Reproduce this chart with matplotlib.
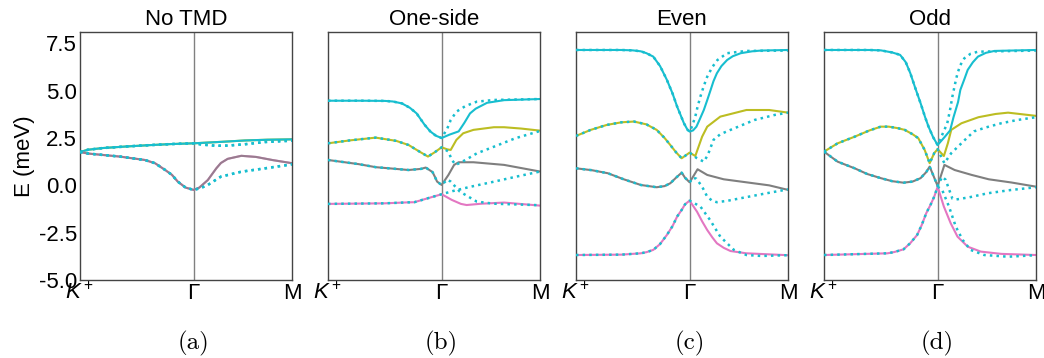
import matplotlib
matplotlib.use('Agg')

import matplotlib.pyplot as plt
from matplotlib.transforms import blended_transform_factory

# k-path: K+ at 0, Gamma at 1, M at 1.866
k_ticks = [0, 1, 1.866]
k_labels = [r'$K^+$', 'Γ', 'M']
titles = ['No TMD', 'One-side', 'Even', 'Odd']
captions = ['(a)', '(b)', '(c)', '(d)']
y_ticks = [-5.0, -2.5, 0.0, 2.5, 5.0, 7.5]

# ---- (a) No TMD ----
a_k_up = [0, 0.07, 0.2, 0.4, 0.6, 0.8, 1.0, 1.25, 1.45, 1.65, 1.866]
a_e_up = [1.76, 1.88, 1.97, 2.05, 2.12, 2.18, 2.22, 2.30, 2.37, 2.41, 2.43]
a_k_up_dot = [1.08, 1.2, 1.3, 1.45, 1.63, 1.866]
a_e_up_dot = [2.15, 2.09, 2.10, 2.17, 2.29, 2.36]

a_k_lo = [0, 0.07, 0.35, 0.57, 0.66, 0.75, 0.81, 0.86, 0.93, 1.0,
          1.05, 1.125, 1.2, 1.24, 1.3, 1.42, 1.55, 1.7, 1.866]
a_e_lo = [1.76, 1.68, 1.52, 1.34, 1.17, 0.81, 0.55, 0.2, -0.12, -0.24,
          -0.12, 0.28, 0.9, 1.18, 1.4, 1.56, 1.5, 1.33, 1.17]
a_k_lo_dot = [1.06, 1.125, 1.24, 1.42, 1.63, 1.866]
a_e_lo_dot = [-0.15, 0.02, 0.46, 0.72, 0.9, 1.11]

# ---- (b) One-side ----
b_k_cyan = [0, 0.3, 0.5, 0.57, 0.65, 0.72, 0.78, 0.85, 0.9, 0.95, 1.0,
            1.07, 1.15, 1.2, 1.25, 1.3, 1.4, 1.55, 1.866]
b_e_cyan = [4.47, 4.47, 4.46, 4.43, 4.33, 4.1, 3.8, 3.2, 2.85, 2.62, 2.5,
            2.68, 2.85, 3.3, 3.8, 4.05, 4.36, 4.50, 4.56]
b_k_cyan_dot = [1.05, 1.08, 1.13, 1.21, 1.31, 1.46, 1.866]
b_e_cyan_dot = [3.0, 3.45, 3.89, 4.19, 4.42, 4.51, 4.56]

b_k_olive = [0, 0.2, 0.42, 0.6, 0.71, 0.8, 0.88, 0.94, 1.0, 1.05, 1.08,
             1.13, 1.19, 1.28, 1.46, 1.55, 1.7, 1.866]
b_e_olive = [2.22, 2.38, 2.52, 2.35, 2.13, 1.8, 1.52, 1.75, 2.01, 1.9, 1.87,
             2.40, 2.75, 2.93, 3.07, 3.07, 3.0, 2.89]
b_k_olive_dot = [1.06, 1.09, 1.125, 1.21, 1.31, 1.46, 1.65, 1.866]
b_e_olive_dot = [1.78, 1.34, 1.08, 1.34, 1.69, 2.04, 2.49, 2.87]

b_k_gray = [0, 0.27, 0.42, 0.71, 0.82, 0.86, 0.92, 0.94, 0.96, 1.0,
            1.06, 1.11, 1.15, 1.28, 1.55, 1.866]
b_e_gray = [1.34, 1.12, 0.96, 0.81, 0.87, 0.94, 0.7, 0.46, 0.2, 0.02,
            0.55, 1.08, 1.22, 1.22, 1.08, 0.73]
b_k_gray_dot = [1.05, 1.08, 1.16, 1.31, 1.46, 1.866]
b_e_gray_dot = [0.3, 0.2, -0.33, -0.86, -0.97, -1.05]

b_k_pink = [0, 0.5, 0.7, 0.76, 0.88, 1.0, 1.09, 1.17, 1.22, 1.35, 1.55, 1.866]
b_e_pink = [-0.98, -0.95, -0.9, -0.89, -0.68, -0.47, -0.77, -0.98, -1.04,
            -0.97, -0.91, -1.07]
b_k_pink_dot = [1.1, 1.25, 1.45, 1.65, 1.866]
b_e_pink_dot = [-0.3, -0.08, 0.18, 0.45, 0.73]

# ---- (c) Even ----
c_k_cyan = [0, 0.4, 0.5, 0.57, 0.62, 0.68, 0.74, 0.8, 0.85, 0.89, 0.95, 0.98,
            1.0, 1.03, 1.06, 1.09, 1.125, 1.155, 1.185, 1.21, 1.24, 1.28,
            1.33, 1.38, 1.45, 1.55, 1.63, 1.866]
c_e_cyan = [7.15, 7.15, 7.13, 7.08, 6.98, 6.80, 6.3, 5.57, 4.85, 4.16, 3.28, 2.95,
            2.84, 2.9, 3.10, 3.5, 3.98, 4.5, 5.04, 5.5, 5.92, 6.3,
            6.62, 6.82, 6.98, 7.08, 7.12, 7.15]
c_k_cyan_dot = [1.02, 1.05, 1.07, 1.095, 1.125, 1.155, 1.2, 1.245, 1.33, 1.5,
                1.866]
c_e_cyan_dot = [3.1, 3.63, 4.15, 4.69, 5.25, 5.74, 6.25, 6.62, 6.98, 7.1, 7.12]

c_k_olive = [0, 0.13, 0.27, 0.4, 0.51, 0.62, 0.71, 0.78, 0.83, 0.88, 0.93,
             0.97, 1.0, 1.05, 1.11, 1.155, 1.27, 1.5, 1.7, 1.866]
c_e_olive = [2.61, 2.93, 3.19, 3.33, 3.37, 3.22, 2.93, 2.5, 2.13, 1.75, 1.43,
             1.6, 1.73, 1.55, 2.57, 3.10, 3.63, 3.98, 3.98, 3.84]
c_k_olive_dot = [1.06, 1.125, 1.16, 1.21, 1.27, 1.36, 1.57, 1.75, 1.866]
c_e_olive_dot = [1.45, 1.25, 1.6, 2.4, 2.7, 2.93, 3.45, 3.72, 3.84]

c_k_gray = [0, 0.14, 0.28, 0.42, 0.57, 0.71, 0.78, 0.83, 0.88, 0.93, 0.96,
            1.0, 1.035, 1.07, 1.155, 1.3, 1.5, 1.7, 1.866]
c_e_gray = [0.90, 0.8, 0.64, 0.32, 0.02, -0.10, -0.04, 0.11, 0.4, 0.67, 0.4,
            0.16, 0.5, 0.85, 0.55, 0.32, 0.16, 0.0, -0.24]
c_k_gray_dot = [1.03, 1.06, 1.11, 1.155, 1.2, 1.24, 1.33, 1.45, 1.65, 1.866]
c_e_gray_dot = [0.4, 0.35, -0.07, -0.6, -0.82, -0.89, -0.82, -0.68, -0.45, -0.21]

c_k_pink = [0, 0.4, 0.57, 0.62, 0.68, 0.74, 0.8, 0.85, 0.89, 0.93, 0.96, 1.0,
            1.065, 1.11, 1.155, 1.2, 1.24, 1.3, 1.36, 1.5, 1.866]
c_e_pink = [-3.68, -3.66, -3.59, -3.53, -3.41, -3.1, -2.62, -2.15, -1.65, -1.3,
            -1.0, -0.81, -1.39, -1.9, -2.36, -2.75, -3.06, -3.3, -3.47, -3.59,
            -3.69]
c_k_pink_dot = [1.095, 1.18, 1.27, 1.39, 1.5, 1.63, 1.866]
c_e_pink_dot = [-1.12, -1.83, -2.71, -3.41, -3.68, -3.73, -3.69]

# ---- (d) Odd ----
d_k_cyan = [0, 0.4, 0.5, 0.6, 0.67, 0.72, 0.76, 0.8, 0.85, 0.89, 0.92, 0.96,
            1.0, 1.06, 1.11, 1.14, 1.18, 1.2, 1.235, 1.265, 1.31, 1.355,
            1.425, 1.5, 1.866]
d_e_cyan = [7.15, 7.15, 7.13, 7.02, 6.89, 6.5, 5.92, 5.2, 4.34, 3.6, 3.10, 2.55,
            2.13, 2.54, 2.9, 3.6, 4.4, 5.04, 5.6, 6.1, 6.5, 6.8,
            7.0, 7.1, 7.15]
d_k_cyan_dot = [1.02, 1.05, 1.085, 1.11, 1.13, 1.155, 1.175, 1.2, 1.235, 1.29,
                1.355, 1.866]
d_e_cyan_dot = [2.40, 2.8, 3.28, 4.0, 4.69, 5.4, 5.92, 6.35, 6.71, 6.95,
                7.06, 7.12]

d_k_olive = [0, 0.12, 0.27, 0.4, 0.5, 0.57, 0.65, 0.71, 0.78, 0.83, 0.886,
             0.93, 0.97, 1.0, 1.055, 1.09, 1.12, 1.21, 1.36, 1.51, 1.62, 1.866]
d_e_olive = [1.78, 2.22, 2.57, 2.9, 3.10, 3.1, 3.02, 2.93, 2.7, 2.49, 1.87,
             1.17, 1.70, 1.91, 1.55, 2.22, 2.93, 3.28, 3.6, 3.77, 3.84, 3.67]
d_k_olive_dot = [1.04, 1.06, 1.12, 1.24, 1.32, 1.42, 1.56, 1.7, 1.866]
d_e_olive_dot = [1.4, 1.17, 1.70, 2.40, 2.85, 3.05, 3.28, 3.45, 3.6]

d_k_gray = [0, 0.12, 0.27, 0.38, 0.5, 0.6, 0.7, 0.78, 0.85, 0.9, 0.93, 1.0,
            1.06, 1.15, 1.3, 1.45, 1.65, 1.866]
d_e_gray = [1.78, 1.25, 0.90, 0.6, 0.38, 0.22, 0.14, 0.2, 0.38, 0.7, 0.99,
            -0.03, 1.08, 0.81, 0.55, 0.32, 0.15, -0.07]
d_k_gray_dot = [1.04, 1.07, 1.1, 1.13, 1.16, 1.28, 1.44, 1.64, 1.866]
d_e_gray_dot = [0.45, 0.3, -0.2, -0.7, -0.75, -0.63, -0.42, -0.25, -0.10]

d_k_pink = [0, 0.56, 0.62, 0.7, 0.76, 0.82, 0.86, 0.9, 0.94, 0.97, 1.0,
            1.055, 1.115, 1.175, 1.265, 1.38, 1.56, 1.866]
d_e_pink = [-3.68, -3.59, -3.52, -3.38, -3.05, -2.62, -2.1, -1.47, -1.0, -0.6,
            -0.07, -1.12, -2.0, -2.71, -3.24, -3.50, -3.62, -3.68]
d_k_pink_dot = [1.04, 1.1, 1.16, 1.22, 1.29, 1.41, 1.62, 1.866]
d_e_pink_dot = [-0.24, -1.12, -2.18, -2.88, -3.41, -3.68, -3.77, -3.69]

CYAN, OLIVE, GRAY, PINK = '#17becf', '#bcbd22', '#7f7f7f', '#e377c2'

plt.rcParams['font.family'] = ['Liberation Sans', 'DejaVu Sans']
plt.rcParams['mathtext.fontset'] = 'custom'
plt.rcParams['mathtext.it'] = 'Liberation Sans:italic'
plt.rcParams['mathtext.rm'] = 'Liberation Sans'
plt.rcParams['axes.unicode_minus'] = False

fig = plt.figure(figsize=(10.44, 3.58), dpi=100)
lefts = [80, 328, 576, 824]
axes = [fig.add_axes([l / 1044, 78 / 358, 212 / 1044, 248 / 358]) for l in lefts]


def dotted(k, e, kd, ed):
    # dotted band: same as solid up to Gamma, then its own branch
    kk = [x for x in k if x <= 1.0] + kd
    ee = [y for x, y in zip(k, e) if x <= 1.0] + ed
    return kk, ee


panels = [
    [(a_k_up, a_e_up, a_k_up_dot, a_e_up_dot, OLIVE),
     (a_k_up, a_e_up, a_k_up_dot, a_e_up_dot, CYAN),
     (a_k_lo, a_e_lo, a_k_lo_dot, a_e_lo_dot, PINK),
     (a_k_lo, a_e_lo, a_k_lo_dot, a_e_lo_dot, GRAY)],
    [(b_k_pink, b_e_pink, b_k_pink_dot, b_e_pink_dot, PINK),
     (b_k_gray, b_e_gray, b_k_gray_dot, b_e_gray_dot, GRAY),
     (b_k_olive, b_e_olive, b_k_olive_dot, b_e_olive_dot, OLIVE),
     (b_k_cyan, b_e_cyan, b_k_cyan_dot, b_e_cyan_dot, CYAN)],
    [(c_k_pink, c_e_pink, c_k_pink_dot, c_e_pink_dot, PINK),
     (c_k_gray, c_e_gray, c_k_gray_dot, c_e_gray_dot, GRAY),
     (c_k_olive, c_e_olive, c_k_olive_dot, c_e_olive_dot, OLIVE),
     (c_k_cyan, c_e_cyan, c_k_cyan_dot, c_e_cyan_dot, CYAN)],
    [(d_k_pink, d_e_pink, d_k_pink_dot, d_e_pink_dot, PINK),
     (d_k_gray, d_e_gray, d_k_gray_dot, d_e_gray_dot, GRAY),
     (d_k_olive, d_e_olive, d_k_olive_dot, d_e_olive_dot, OLIVE),
     (d_k_cyan, d_e_cyan, d_k_cyan_dot, d_e_cyan_dot, CYAN)],
]

for i, ax in enumerate(axes):
    ax.axvline(1.0, color='#808080', lw=1.0, zorder=1)
    for k, e, kd, ed, col in panels[i]:
        alpha = 0.75 if (i == 0 and col == GRAY) else 1.0
        ax.plot(k, e, color=col, lw=1.5, alpha=alpha, zorder=2)
    for k, e, kd, ed, col in panels[i]:
        kk, ee = dotted(k, e, kd, ed)
        ax.plot(kk, ee, color=CYAN, lw=1.8, ls=':', zorder=3)

    ax.set_xlim(0, 1.866)
    ax.set_ylim(-5.0, 8.1)
    ax.set_xticks(k_ticks)
    ax.set_xticklabels(k_labels, fontsize=16)
    ax.set_yticks(y_ticks)
    ax.tick_params(length=0, pad=2, labelsize=16)
    if i > 0:
        ax.set_yticklabels([])
    ax.set_title(titles[i], fontsize=16, pad=5)
    for s in ax.spines.values():
        s.set_color('#444444')
        s.set_linewidth(1.0)
    tr = blended_transform_factory(ax.transData, ax.transAxes)
    ax.text(1.0, -0.255, captions[i], transform=tr, ha='center', va='center',
            fontsize=18, family='cmr10')

axes[0].set_ylabel('E (meV)', fontsize=16, labelpad=3)

fig.savefig('out.png', dpi=100)
